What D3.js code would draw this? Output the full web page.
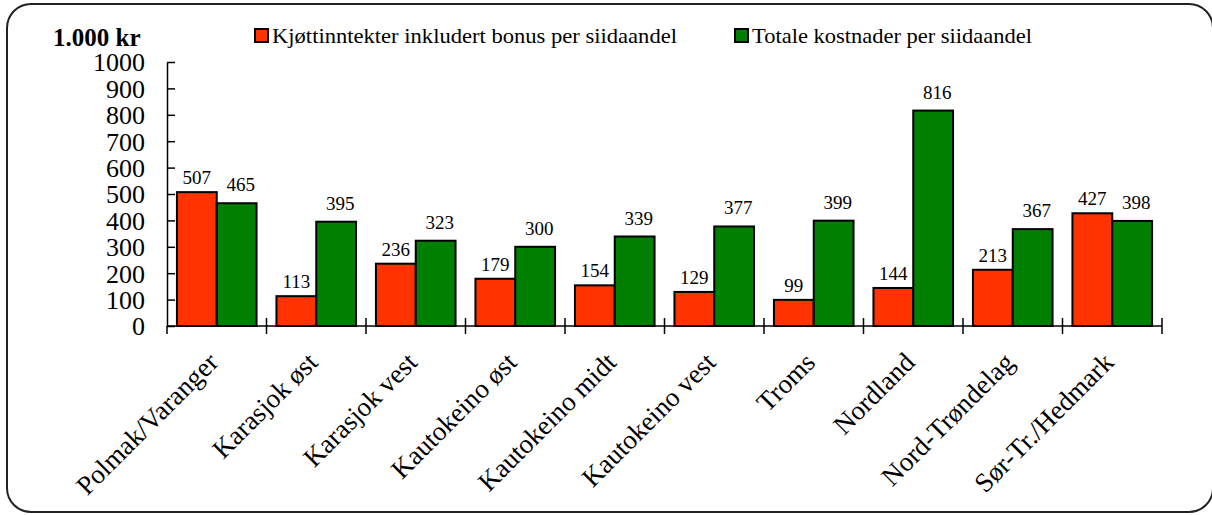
<!DOCTYPE html>
<html>
<head>
<meta charset="utf-8">
<script src="https://cdn.jsdelivr.net/npm/d3@7"></script>
<style>
  body { margin: 0; background: #fff; }
  svg text { font-family: "Liberation Serif", "Times New Roman", serif; fill: #000; }
</style>
</head>
<body>
<div id="chart"></div>
<script>
// Data.
const regions = ['Polmak/Varanger', 'Karasjok øst', 'Karasjok vest', 'Kautokeino øst',
  'Kautokeino midt', 'Kautokeino vest', 'Troms', 'Nordland', 'Nord-Trøndelag', 'Sør-Tr./Hedmark'];
const income = [507, 113, 236, 179, 154, 129, 99, 144, 213, 427];
const costs = [465, 395, 323, 300, 339, 377, 399, 816, 367, 398];
const seriesNames = ['Kjøttinntekter inkludert bonus per siidaandel', 'Totale kostnader per siidaandel'];
const seriesColors = ['#ff3300', '#008000'];
const yTicks = [0, 100, 200, 300, 400, 500, 600, 700, 800, 900, 1000];

const width = 1212;
const height = 515;
const margin = {left: 167, right: 50, top: 62, bottom: 189};
const serif = '"Liberation Serif", "Times New Roman", serif';

let svg = d3.select('#chart')
  .append('svg')
    .attr('width', width)
    .attr('height', height)
    .attr('font-family', serif);

// rounded frame round the whole chart
svg.append('rect')
  .attr('x', 7).attr('y', 4)
  .attr('width', 1206).attr('height', 508)
  .attr('rx', 24).attr('ry', 24)
  .attr('fill', '#fff')
  .attr('stroke', '#222')
  .attr('stroke-width', 2);

let x0 = d3.scaleBand()
  .domain(regions)
  .range([margin.left, width - margin.right]);

let x1 = d3.scaleBand()
  .domain([0, 1])
  .range([x0.bandwidth() * 0.1, x0.bandwidth() * 0.9]);

let y = d3.scaleLinear()
  .domain([0, 1000])
  .range([height - margin.bottom, margin.top]);

let rows = regions.map((r, i) => {
  return {'region': r, 'values': [income[i], costs[i]]};
});

// bars
let groups = svg.append('g')
  .selectAll('g')
  .data(rows)
  .enter().append('g')
  .attr('transform', (d) => 'translate(' + x0(d.region) + ',0)');

groups.selectAll('rect')
  .data((d) => d.values.map((v, s) => ({'s': s, 'v': v})))
  .enter().append('rect')
  .attr('x', (d) => x1(d.s))
  .attr('y', (d) => y(d.v))
  .attr('width', x1.bandwidth())
  .attr('height', (d) => y(0) - y(d.v))
  .attr('fill', (d) => seriesColors[d.s])
  .attr('stroke', '#000')
  .attr('stroke-width', 2);

// value labels
groups.selectAll('text')
  .data((d) => d.values.map((v, s) => ({'s': s, 'v': v})))
  .enter().append('text')
  .attr('x', (d) => x1(d.s) + x1.bandwidth() / 2 + (d.s == 1 ? 4 : 0))
  .attr('y', (d) => y(d.v) - (d.s == 1 ? 12 : 8))
  .attr('text-anchor', 'middle')
  .style('font-size', '19px')
  .text((d) => d.v);

// y axis: line, crossing ticks, labels
let yAxis = svg.append('g')
  .attr('transform', 'translate(' + margin.left + ',0)')
  .call(d3.axisLeft(y).tickValues(yTicks).tickFormat(d3.format('d'))
    .tickSize(9).tickSizeOuter(0).tickPadding(13));
yAxis.attr('font-family', null);
yAxis.select('.domain').attr('stroke', '#000').attr('stroke-width', 1.5);
yAxis.selectAll('.tick line').attr('x2', 8).attr('stroke-width', 1.5);
yAxis.selectAll('.tick text')
  .style('font-size', '26px')
  .style('font-family', serif)
  .attr('dy', '0.34em');

// x axis: category boundary ticks
let xAxis = svg.append('g')
  .attr('transform', 'translate(0,' + y(0) + ')');
xAxis.append('line')
  .attr('x1', margin.left).attr('x2', width - margin.right)
  .attr('stroke', '#000').attr('stroke-width', 1.5);
xAxis.selectAll('line.tick')
  .data(regions.slice(1).concat(['end']))
  .enter().append('line')
  .attr('class', 'tick')
  .attr('x1', (d) => d == 'end' ? width - margin.right : x0(d))
  .attr('x2', (d) => d == 'end' ? width - margin.right : x0(d))
  .attr('y1', -8).attr('y2', 8)
  .attr('stroke', '#000').attr('stroke-width', 1.5);
xAxis.append('line')
  .attr('x1', margin.left).attr('x2', margin.left)
  .attr('y1', 0).attr('y2', 8)
  .attr('stroke', '#000').attr('stroke-width', 1.5);

xAxis.selectAll('text')
  .data(regions)
  .enter().append('text')
  .attr('text-anchor', 'end')
  .style('font-size', '27px')
  .attr('transform', (d) => {
    return 'translate(' + (x0(d) + x0.bandwidth() / 2 + 3) + ',38) rotate(-45)';
  })
  .text((d) => d);

// unit title
svg.append('text')
  .attr('x', 53).attr('y', 46)
  .style('font-size', '25px')
  .style('font-weight', 'bold')
  .text('1.000 kr');

// legend
let legendX = [255, 735];
let legendW = [405, 280];
let legend = svg.append('g')
  .selectAll('g')
  .data(seriesNames)
  .enter().append('g')
  .attr('transform', (d, i) => 'translate(' + legendX[i] + ',29)');

legend.append('rect')
  .attr('width', 13).attr('height', 13)
  .attr('fill', (d, i) => seriesColors[i])
  .attr('stroke', '#000')
  .attr('stroke-width', 2);

legend.append('text')
  .attr('x', 17).attr('y', 14)
  .attr('textLength', (d, i) => legendW[i])
  .attr('lengthAdjust', 'spacingAndGlyphs')
  .style('font-size', '22px')
  .text((d) => d);
</script>
</body>
</html>
